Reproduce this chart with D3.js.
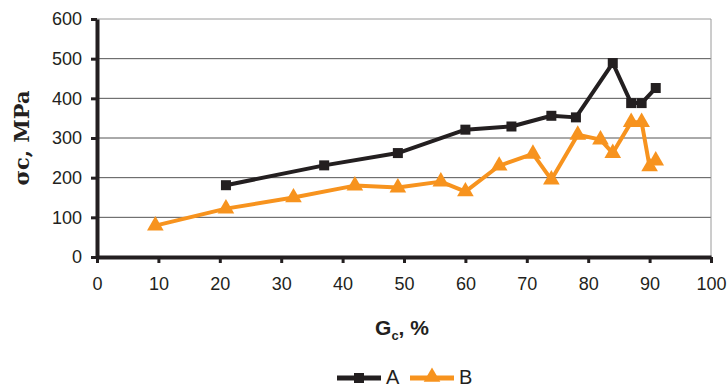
<!DOCTYPE html>
<html>
<head>
<meta charset="utf-8">
<script src="https://cdn.jsdelivr.net/npm/d3@7"></script>
<style>
  body { margin: 0; background: #fff; }
  svg { display: block; }
</style>
</head>
<body>
<svg width="728" height="387"></svg>
<script>
// series A (squares, black)
var gcA = [21, 37, 49, 60, 67.5, 74, 78, 84, 87, 88.7, 91];
var sigmaA = [181, 231, 262, 321, 329, 356, 352, 489, 388, 388, 426];
// series B (triangles, orange)
var gcB = [9.5, 21, 32, 42, 49, 56, 60, 65.5, 71, 74, 78.3, 82, 84, 87, 88.7, 90, 91];
var sigmaB = [79, 122, 150, 180, 175, 190, 165, 230, 260, 195, 308, 296, 262, 340, 340, 228, 243];

var xTicks = d3.range(0, 101, 10);
var yTicks = d3.range(0, 601, 100);
var seriesNames = ["A", "B"];

var black = "#231f20", orange = "#f7931e";
var font = "'Liberation Sans', Arial, sans-serif";

var svg = d3.select("svg");

var x = d3.scaleLinear().domain([0, 100]).range([97, 711]);
var y = d3.scaleLinear().domain([0, 600]).range([257, 19]);

// gridlines
svg.append("g")
  .selectAll("line")
  .data(yTicks.slice(1))
  .enter()
  .append("line")
  .attr("x1", x(0)).attr("x2", x(100))
  .attr("y1", d => y(d)).attr("y2", d => y(d))
  .attr("stroke", d => d == 600 ? "#9a9a9a" : "#555")
  .attr("stroke-width", 1);

// right border of plot area
svg.append("line")
  .attr("x1", x(100)).attr("x2", x(100))
  .attr("y1", y(600)).attr("y2", y(0))
  .attr("stroke", "#9a9a9a");

var xAxis = svg.append("g")
  .attr("transform", "translate(0," + y(0) + ")")
  .call(d3.axisBottom(x).tickValues(xTicks).tickSize(6).tickPadding(14).tickSizeOuter(0));

var yAxis = svg.append("g")
  .attr("transform", "translate(" + x(0) + ",0)")
  .call(d3.axisLeft(y).tickValues(yTicks).tickSize(6).tickPadding(9).tickSizeOuter(0));

[xAxis, yAxis].forEach(function(g) {
  g.select(".domain").attr("stroke", black).attr("stroke-width", 4);
  g.selectAll(".tick line").attr("stroke", black).attr("stroke-width", 3);
  g.selectAll(".tick text")
    .attr("fill", "#231f20")
    .style("font-family", font)
    .style("font-size", "18px");
});

var line = d3.line()
  .x(d => x(d[0]))
  .y(d => y(d[1]));

var ptsA = gcA.map((g, i) => [g, sigmaA[i]]);
var ptsB = gcB.map((g, i) => [g, sigmaB[i]]);

var tri = d3.symbol().type(d3.symbolTriangle).size(120);

svg.append("path")
  .attr("d", line(ptsB))
  .attr("fill", "none")
  .attr("stroke", orange)
  .attr("stroke-width", 4)
  .attr("stroke-linejoin", "round");

svg.append("g")
  .selectAll("path")
  .data(ptsB)
  .enter()
  .append("path")
  .attr("d", tri)
  .attr("transform", d => "translate(" + x(d[0]) + "," + y(d[1]) + ")")
  .attr("fill", orange);

svg.append("path")
  .attr("d", line(ptsA))
  .attr("fill", "none")
  .attr("stroke", black)
  .attr("stroke-width", 4)
  .attr("stroke-linejoin", "round");

svg.append("g")
  .selectAll("rect")
  .data(ptsA)
  .enter()
  .append("rect")
  .attr("x", d => x(d[0]) - 5)
  .attr("y", d => y(d[1]) - 5)
  .attr("width", 10)
  .attr("height", 10)
  .attr("fill", black);

// axis titles
var xt = svg.append("text")
  .attr("x", 402)
  .attr("y", 335)
  .attr("text-anchor", "middle")
  .attr("fill", black)
  .style("font-family", font)
  .style("font-size", "21px")
  .style("font-weight", "bold");
xt.append("tspan").text("G");
xt.append("tspan").attr("dy", 5).style("font-size", "13px").text("c");
xt.append("tspan").attr("dy", -5).text(", %");

svg.append("text")
  .attr("transform", "translate(29,138) rotate(-90)")
  .attr("text-anchor", "middle")
  .attr("fill", black)
  .style("font-family", "'DejaVu Serif', 'Liberation Serif', serif")
  .style("font-size", "21px")
  .style("font-weight", "bold")
  .text("σc, MPa");

// legend
var legend = svg.append("g");
var legX = [337, 410];
seriesNames.forEach(function(name, i) {
  var g = legend.append("g").attr("transform", "translate(" + legX[i] + ",378)");
  var c = i == 0 ? black : orange;
  g.append("line").attr("x1", 0).attr("x2", 44).attr("y1", 0).attr("y2", 0)
    .attr("stroke", c).attr("stroke-width", 5);
  if (i == 0) {
    g.append("rect").attr("x", 17).attr("y", -5).attr("width", 10).attr("height", 10).attr("fill", c);
  } else {
    g.append("path").attr("d", tri).attr("transform", "translate(22,-1)").attr("fill", c);
  }
  g.append("text")
    .attr("x", 49)
    .attr("y", 6)
    .attr("fill", black)
    .style("font-family", font)
    .style("font-size", "20px")
    .text(name);
});
</script>
</body>
</html>
